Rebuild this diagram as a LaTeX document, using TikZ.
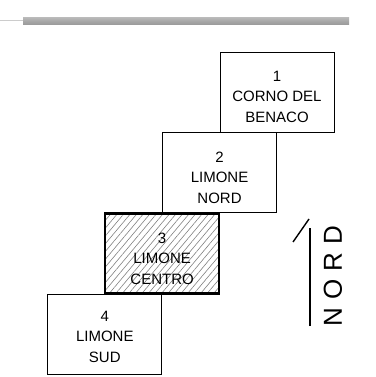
\documentclass[tikz,border=0pt]{standalone}
\usepackage{fontspec}
\setmainfont{Liberation Sans}
\usetikzlibrary{positioning, patterns.meta}

\begin{document}
\begin{tikzpicture}[x=1pt, y=-1pt,
      zone/.style={draw, line width=0.9pt, fill=white, minimum width=114pt, minimum height=80pt, inner sep=0pt},
      active/.style={zone, line width=2.4pt, pattern={Lines[angle=50, distance=5pt, line width=0.6pt]}, pattern color=gray},
      zonetext/.style={anchor=north, align=center, inner sep=0pt, font=\fontsize{15}{20.5}\selectfont},
      every node/.style={font=\small}
      ]
    \useasboundingbox (0,0) rectangle (375,377);

    % Header bar
    \draw[gray!40, line width=1pt] (0,21) -- (23,21);
    \shade[top color=gray!55, bottom color=gray!80, middle color=gray!70] (23,17.5) rectangle (349,25);

    % Nodes
    \node[zone] (z1) at (277,92) {};
    \node[zone, anchor=north] (z2) at (z1.south west) {};
    \node[active, anchor=north] (z3) at (z2.south west) {};
    \node[zone, anchor=north] (z4) at (z3.south west) {};
    \draw[line width=2.4pt] (z3.south west) -- (z3.south east);

    \node[zonetext, below=19pt of z1.north] (t1) {1\\CORNO DEL\\BENACO};
    \node[zonetext, below=19pt of z2.north] (t2) {2\\LIMONE\\NORD};
    \node[zonetext, below=19pt of z3.north] (t3) {3\\LIMONE\\CENTRO};
    \node[zonetext, below=17pt of z4.north] (t4) {4\\LIMONE\\SUD};

    % North arrow
    \coordinate (n0) at (310,326);
    \coordinate (n1) at (310,228);
    \coordinate (k0) at (293,242);
    \coordinate (k1) at (309,219);
    \draw[line width=1.4pt] (n0) -- (n1);
    \draw[line width=1.4pt] (k0) -- (k1);
    \node[rotate=90, font=\fontsize{26}{26}\selectfont] (nord) at (333,276) {N\hspace{8pt}O\hspace{8pt}R\hspace{8pt}D};

    \end{tikzpicture}
\end{document}
